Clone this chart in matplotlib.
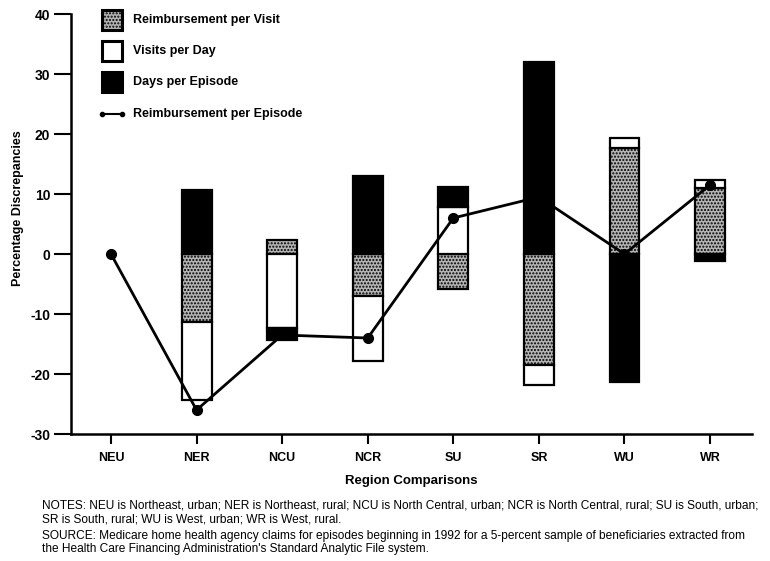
import matplotlib
matplotlib.use('Agg')
import matplotlib.pyplot as plt
from matplotlib.patches import Rectangle
from matplotlib.lines import Line2D

# ---- data ----
regions = ['NEU', 'NER', 'NCU', 'NCR', 'SU', 'SR', 'WU', 'WR']
reimb_per_visit = [0, -11.3, 2.3, -7.0, -5.9, -18.5, 17.6, 11.0]
visits_per_day = [0, -13.0, -12.4, -10.9, 7.9, -3.3, 1.8, 1.3]
days_per_episode = [0, 10.7, -2.0, 13.0, 3.3, 32.0, -21.3, -1.1]
reimb_per_episode = [0, -26.0, -13.5, -14.0, 6.0, 9.5, 0.0, 11.5]
yticks = [-30, -20, -10, 0, 10, 20, 30, 40]
series_names = ['Reimbursement per Visit', 'Visits per Day', 'Days per Episode']
line_name = 'Reimbursement per Episode'

W, H = 770, 561
plt.rcParams['font.family'] = ['Liberation Sans', 'DejaVu Sans']
plt.rcParams['hatch.linewidth'] = 1.0
plt.rcParams['hatch.color'] = 'black'
plt.rcParams['axes.unicode_minus'] = False

fig = plt.figure(figsize=(W / 100, H / 100), dpi=100)
ax_left, ax_right, ax_top, ax_bot = 71, 752, 14, 434
ax = fig.add_axes([ax_left / W, 1 - ax_bot / H, (ax_right - ax_left) / W, (ax_bot - ax_top) / H])

def fx(px):
    return px / W

def fy(py):
    return 1 - py / H

styles = [
    dict(facecolor='#b5b5b5', hatch='.....', edgecolor='black'),
    dict(facecolor='white', edgecolor='black'),
    dict(facecolor='black', edgecolor='black'),
]

x = list(range(len(regions)))
pos = [0.0] * len(regions)
neg = [0.0] * len(regions)
bw = 0.35
for vals, st in zip([reimb_per_visit, visits_per_day, days_per_episode], styles):
    xs, hs, bs = [], [], []
    for i, v in enumerate(vals):
        if v == 0:
            continue
        if v > 0:
            bs.append(pos[i]); pos[i] += v
        else:
            bs.append(neg[i]); neg[i] += v
        xs.append(x[i]); hs.append(v)
    ax.bar(xs, hs, bottom=bs, width=bw, linewidth=1.6, zorder=3, **st)

ax.plot(x, reimb_per_episode, color='black', lw=2, marker='o', ms=7, zorder=5)

ax.set_xlim(-0.467, 7.49)
ax.set_ylim(-30, 40)
ax.set_yticks(yticks)
ax.set_xticks(x)
ax.set_xticklabels(regions)
for s in ['top', 'right']:
    ax.spines[s].set_visible(False)
for s in ['left', 'bottom']:
    ax.spines[s].set_linewidth(1.8)
ax.tick_params(axis='y', length=12, width=1.5, pad=3, labelsize=10)
ax.tick_params(axis='x', length=7, width=1.5, pad=6, labelsize=9)
for lab in ax.get_xticklabels() + ax.get_yticklabels():
    lab.set_fontweight('bold')

# legend (custom drawn)
box_x0, box_w = 102, 20
legend_rows = [20, 51, 82]
for (yc, st, name) in zip(legend_rows, styles, series_names):
    r = Rectangle((fx(box_x0), fy(yc + 10)), box_w / W, 20 / H, transform=fig.transFigure,
                  linewidth=2.2, **st)
    fig.patches.append(r)
    fig.text(fx(133), fy(yc), name, ha='left', va='center', fontsize=9, fontweight='bold')
ly = 114
fig.add_artist(Line2D([fx(102), fx(122)], [fy(ly), fy(ly)], color='black', lw=1.5,
                      marker='o', ms=3, transform=fig.transFigure))
fig.text(fx(133), fy(ly), line_name, ha='left', va='center', fontsize=9, fontweight='bold')

fig.text(fx(18), fy(208), 'Percentage Discrepancies', rotation=90, ha='center', va='center',
         fontsize=9, fontweight='bold')
fig.text(fx(411), fy(481), 'Region Comparisons', ha='center', va='center',
         fontsize=9.5, fontweight='bold')

notes = [
    (505, 'NOTES: NEU is Northeast, urban; NER is Northeast, rural; NCU is North Central, urban; NCR is North Central, rural; SU is South, urban;'),
    (519, 'SR is South, rural; WU is West, urban; WR is West, rural.'),
    (536, 'SOURCE: Medicare home health agency claims for episodes beginning in 1992 for a 5-percent sample of beneficiaries extracted from'),
    (549, "the Health Care Financing Administration's Standard Analytic File system."),
]
texts = []
for yy, t in notes:
    texts.append(fig.text(fx(42), fy(yy), t, ha='left', va='center', fontsize=8))

# fit notes width to reference (first line ~725 px)
fig.canvas.draw()
r = fig.canvas.get_renderer()
w0 = texts[0].get_window_extent(r).width
scale = 724 / w0
for t in texts:
    t.set_fontsize(8 * scale)

fig.savefig('out.png', dpi=100)
